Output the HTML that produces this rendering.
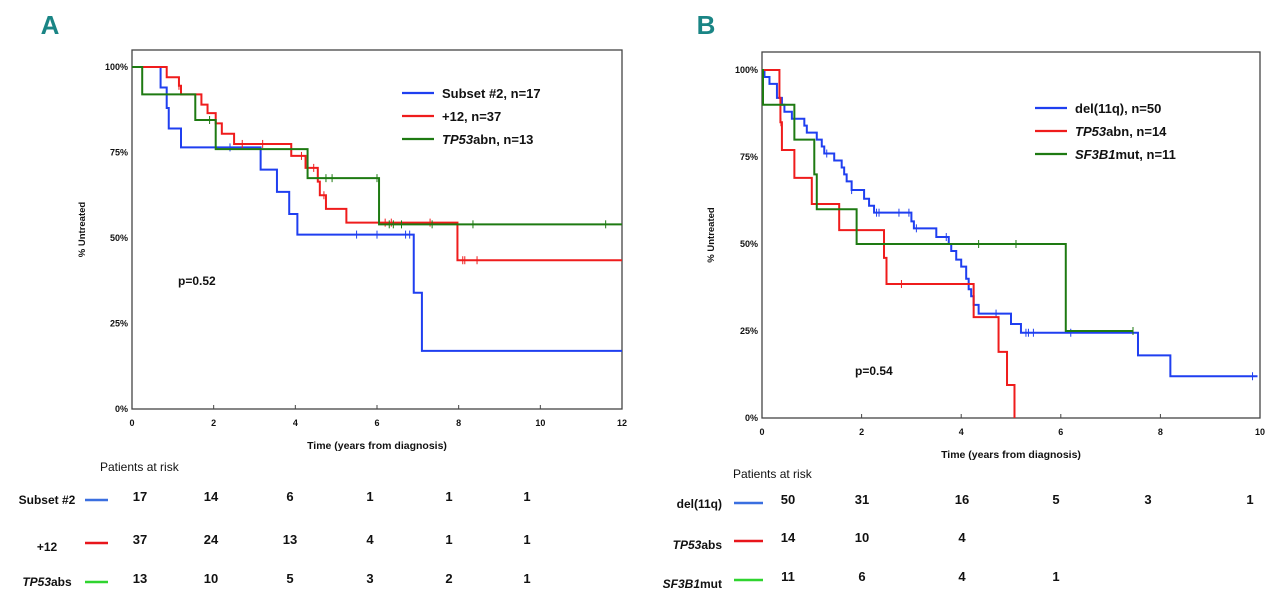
<!DOCTYPE html>
<html><head><meta charset="utf-8"><style>
body{margin:0;background:#fff;width:1280px;height:613px;overflow:hidden;font-family:"Liberation Sans",sans-serif}
svg{display:block}
text{font-family:"Liberation Sans",sans-serif}
</style></head><body>
<svg id="s" width="1280" height="613" viewBox="0 0 1280 613">
<text x="50" y="34" font-size="26" font-weight="bold" fill="#1a8585" text-anchor="middle">A</text>
<text x="706" y="34" font-size="26" font-weight="bold" fill="#1a8585" text-anchor="middle">B</text>
</svg>
<script>
// Panel A data
const aTicksX=[0,2,4,6,8,10,12];
const aTicksY=[0,25,50,75,100];
const aBlueSteps=[[0.7,0.94],[0.85,0.88],[0.9,0.82],[1.2,0.765],[3.15,0.70],[3.55,0.635],[3.85,0.57],[4.05,0.51],[6.9,0.34],[7.1,0.17]];
const aBlueCens=[2.4,5.5,6.0,6.7,6.8];
const aRedSteps=[[0.85,0.97],[1.15,0.945],[1.2,0.92],[1.7,0.89],[1.85,0.865],[2.05,0.835],[2.2,0.805],[2.5,0.775],[3.9,0.74],[4.25,0.705],[4.55,0.665],[4.6,0.625],[4.75,0.585],[5.25,0.545],[7.97,0.435]];
const aRedCens=[1.15,2.7,3.2,4.15,4.45,4.7,6.2,6.35,7.3,8.1,8.15,8.45];
const aGreenSteps=[[0.25,0.92],[1.55,0.845],[2.05,0.76],[4.3,0.675],[6.05,0.54]];
const aGreenCens=[1.9,4.75,4.9,6.0,6.3,6.4,6.6,7.35,8.35,11.6];
const aRiskLabels=["Subset #2","+12","TP53abs"];
const aRisk=[[17,14,6,1,1,1],[37,24,13,4,1,1],[13,10,5,3,2,1]];
// Panel B data
const bTicksX=[0,2,4,6,8,10];
const bTicksY=[0,25,50,75,100];
const bBlueSteps=[[0.05,0.98],[0.15,0.96],[0.3,0.92],[0.4,0.9],[0.45,0.88],[0.6,0.86],[0.85,0.84],[0.9,0.82],[1.1,0.80],[1.2,0.78],[1.25,0.76],[1.45,0.74],[1.6,0.72],[1.65,0.70],[1.7,0.68],[1.8,0.655],[2.05,0.63],[2.15,0.61],[2.25,0.59],[3.0,0.565],[3.05,0.545],[3.5,0.52],[3.75,0.50],[3.8,0.48],[3.9,0.455],[4.0,0.435],[4.1,0.40],[4.15,0.37],[4.2,0.35],[4.25,0.325],[4.35,0.30],[5.0,0.27],[5.2,0.245],[7.55,0.18],[8.2,0.12]];
const bBlueCens=[1.3,1.8,2.3,2.35,2.75,2.95,3.1,3.7,4.7,5.3,5.35,5.45,6.2,9.85];
const bRedSteps=[[0.35,0.92],[0.37,0.85],[0.4,0.77],[0.65,0.69],[1.0,0.615],[1.55,0.54],[2.45,0.46],[2.5,0.385],[4.25,0.29],[4.75,0.19],[4.92,0.095],[5.07,0]];
const bRedCens=[0.38,2.8];
const bGreenSteps=[[0.02,0.9],[0.65,0.8],[1.05,0.7],[1.1,0.6],[1.9,0.5],[6.1,0.25]];
const bGreenCens=[4.35,5.1,7.45];
const bRiskLabels=["del(11q)","TP53abs","SF3B1mut"];
const bRisk=[[50,31,16,5,3,1],[14,10,4],[11,6,4,1]];

const NS="http://www.w3.org/2000/svg";
const svg=document.getElementById('s');
function mk(tag,attrs,parent){const e=document.createElementNS(NS,tag);for(const k in attrs)e.setAttribute(k,attrs[k]);(parent||svg).appendChild(e);return e;}
function txt(x,y,s,size,extra,parent){const t=mk('text',Object.assign({x:x,y:y,'font-size':size,'font-weight':'bold',fill:'#111'},extra||{}),parent);t.textContent=s;return t;}

function panel(p){
  const g=mk('g',{});
  
  
  const X=t=>p.x0+t/p.tmax*(p.x1-p.x0);
  const Y=s=>p.y0-s*(p.y0-p.y100);
  const box=mk('rect',{x:p.x0,y:p.top,width:p.x1-p.x0,height:p.y0-p.top,fill:'none',stroke:'#444','stroke-width':1.3},g);
  
  
  p.ticksX.forEach(v=>{
    mk('line',{x1:X(v),x2:X(v),y1:p.y0,y2:p.y0-4,stroke:'#444'},g);
    const t=txt(X(v),p.y0+17,String(v),9,{'text-anchor':'middle'},g);
    
    
  });
  p.ticksY.forEach(v=>{
    const t=txt(p.x0-4,Y(v/100)+3,v+'%',9,{'text-anchor':'end'},g);
    
    
  });
  const xt=txt((p.x0+p.x1)/2,p.y0+40,'Time (years from diagnosis)',10.5,{'text-anchor':'middle'},g);
  
  
  const cy=(p.y0+p.top)/2;
  const yt=txt(p.ytx,cy,'% Untreated',9.5,{'text-anchor':'middle',transform:'rotate(-90 '+p.ytx+' '+cy+')'},g);
  
  
  p.series.forEach(se=>{
    let d='M'+X(0)+' '+Y(1);
    se.steps.forEach(([t,v])=>{d+=' H'+X(t)+' V'+Y(v);});
    d+=' H'+X(se.end);
    const path=mk('path',{d:d,fill:'none',stroke:se.color,'stroke-width':2},g);
    
    
    se.cens.forEach(c=>{
      let sv=1;se.steps.forEach(([t,v])=>{if(t<=c)sv=v;});
      const l=mk('line',{x1:X(c),x2:X(c),y1:Y(sv)-4,y2:Y(sv)+4,stroke:se.color,'stroke-width':1},g);
      
      
    });
  });
  p.legend.forEach((L,i)=>{
    const ly=p.ly+i*p.ldy;
    const le=mk('g',{},g);
    
    
    mk('line',{x1:p.lx,x2:p.lx+32,y1:ly,y2:ly,stroke:L.color,'stroke-width':2.2},le);
    const t=mk('text',{x:p.lx+40,y:ly+5,'font-size':13,'font-weight':'bold',fill:'#111'},le);
    L.parts.forEach(([s,it])=>{const ts=mk('tspan',it?{'font-style':'italic'}:{},t);ts.textContent=s;});
  });
  const pv=txt(p.px,p.py,p.pval,12,{},g);
  
  
  const rt=mk('g',{},g);
  
  
  const h=mk('text',{x:p.rhx,y:p.rhy,'font-size':12,fill:'#111'},rt);h.textContent='Patients at risk';
  const cols=['#3a6fe0','#e8151b','#2fd42f'];
  p.risk.forEach((row,i)=>{
    const ry=p.ry[i];
    const lab=mk('text',{x:p.rlx,y:ry+p.rlOff[i],'font-size':12,'font-weight':'bold',fill:'#111','text-anchor':p.rlAnchor},rt);
    p.riskLabelParts[i].forEach(([s,it])=>{const ts=mk('tspan',it?{'font-style':'italic'}:{},lab);ts.textContent=s;});
    mk('line',{x1:p.rl1,x2:p.rl2,y1:ry,y2:ry,stroke:cols[i],'stroke-width':2.5},rt);
    row.forEach((n,j)=>{
      const c=txt(p.rcols[j],ry+1,String(n),13,{'text-anchor':'middle'},rt);
      
      
    });
  });
}

panel({name:'panel-a',x0:132,x1:622,top:50,y0:409,y100:67,tmax:12,ticksX:aTicksX,ticksY:aTicksY,ytx:85,
  series:[{id:'subset2',color:'#1f3ff0',steps:aBlueSteps,cens:aBlueCens,end:12},
          {id:'plus12',color:'#ef1c1c',steps:aRedSteps,cens:aRedCens,end:12},
          {id:'tp53abn',color:'#1e7a12',steps:aGreenSteps,cens:aGreenCens,end:12}],
  legend:[{color:'#1f3ff0',parts:[['Subset #2, n=17',0]]},{color:'#ef1c1c',parts:[['+12, n=37',0]]},{color:'#1e7a12',parts:[['TP53',1],['abn, n=13',0]]}],
  lx:402,ly:93,ldy:23,px:178,py:285,pval:'p=0.52',
  rhx:100,rhy:471,risk:aRisk,ry:[500,543,582],rlx:47,rlAnchor:'middle',rlOff:[4,8,4],
  riskLabelParts:[[['Subset #2',0]],[['+12',0]],[['TP53',1],['abs',0]]],rl1:85,rl2:108,rcols:[140,211,290,370,449,527]});

panel({name:'panel-b',x0:762,x1:1260,top:52,y0:418,y100:70,tmax:10,ticksX:bTicksX,ticksY:bTicksY,ytx:714,
  series:[{id:'del11q',color:'#1f3ff0',steps:bBlueSteps,cens:bBlueCens,end:9.95},
          {id:'tp53abn',color:'#ef1c1c',steps:bRedSteps,cens:bRedCens,end:5.07},
          {id:'sf3b1mut',color:'#1e7a12',steps:bGreenSteps,cens:bGreenCens,end:7.45}],
  legend:[{color:'#1f3ff0',parts:[['del(11q), n=50',0]]},{color:'#ef1c1c',parts:[['TP53',1],['abn, n=14',0]]},{color:'#1e7a12',parts:[['SF3B1',1],['mut, n=11',0]]}],
  lx:1035,ly:108,ldy:23,px:855,py:375,pval:'p=0.54',
  rhx:733,rhy:478,risk:bRisk,ry:[503,541,580],rlx:722,rlAnchor:'end',rlOff:[5,8,8],
  riskLabelParts:[[['del(11q)',0]],[['TP53',1],['abs',0]],[['SF3B1',1],['mut',0]]],rl1:734,rl2:763,rcols:[788,862,962,1056,1148,1250]});
</script>
</body></html>
